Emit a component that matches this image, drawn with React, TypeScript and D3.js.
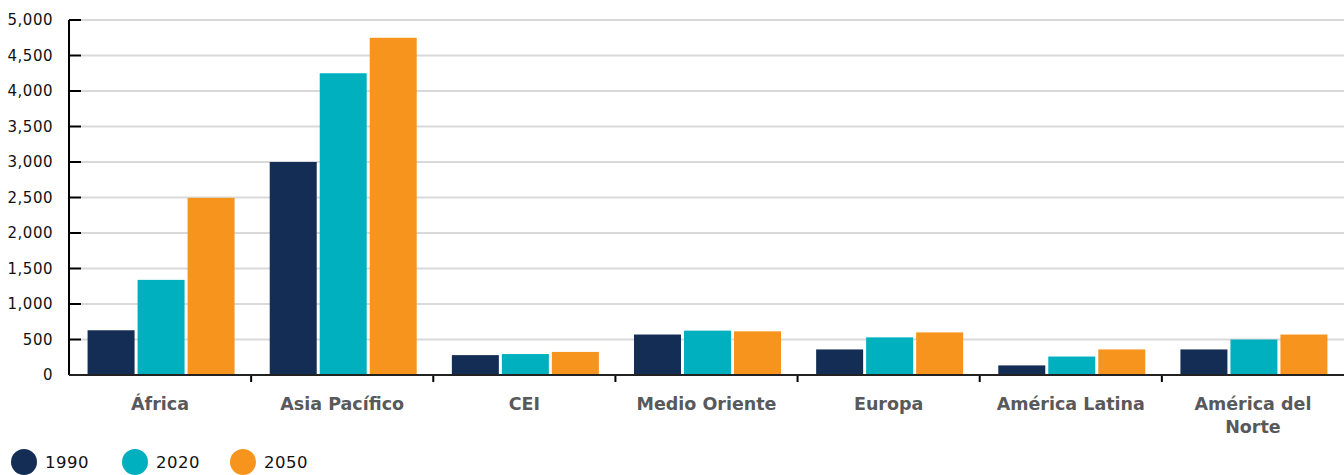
import React from "react";
import * as d3 from "d3";

const categories = ["África", "Asia Pacífico", "CEI", "Medio Oriente", "Europa", "América Latina", "América del Norte"];
const seriesNames = ["1990", "2020", "2050"];
const values1990 = [630, 3000, 280, 570, 360, 135, 360];
const values2020 = [1340, 4250, 295, 625, 530, 260, 500];
const values2050 = [2495, 4750, 325, 615, 600, 360, 570];
const yTicks = [0, 500, 1000, 1500, 2000, 2500, 3000, 3500, 4000, 4500, 5000];
const colors = ["#132D54", "#00B0BE", "#F7941D"];

const W = 1344;
const H = 475;
const left = 69;
const right = 1344;
const top = 20;
const bottom = 375;

export default function App() {
  const series = [values1990, values2020, values2050];
  const x = d3.scaleBand<string>().domain(categories).range([left, right]).paddingInner(0).paddingOuter(0);
  const y = d3.scaleLinear().domain([0, 5000]).range([bottom, top]);
  const barW = 47;
  const gap = 3;
  const groupW = barW * 3 + gap * 2;
  const fmt = d3.format(",");

  const wrap = (s: string) => (s === "América del Norte" ? ["América del", "Norte"] : [s]);

  return (
    <svg width={W} height={H} style={{ position: "absolute", left: 0, top: 0, display: "block" }}>
      {yTicks.map((t) => (
        <g key={t}>
          {t > 0 && <line x1={left + 12} x2={right} y1={y(t)} y2={y(t)} stroke="#d9d9d9" strokeWidth={2} />}
          <line x1={left} x2={left + 12} y1={y(t)} y2={y(t)} stroke="#000" strokeWidth={2} />
          <text x={53} y={y(t)} dy="0.35em" textAnchor="end" fontFamily="DejaVu Sans" fontSize={15} letterSpacing={0.5} fill="#111">
            {fmt(t)}
          </text>
        </g>
      ))}
      {categories.map((c, i) => {
        const x0 = (x(c) as number) + (x.bandwidth() - groupW) / 2 + 1;
        return (
          <g key={c}>
            {series.map((s, j) => (
              <rect
                key={j}
                x={x0 + j * (barW + gap)}
                y={y(s[i])}
                width={barW}
                height={y(0) - y(s[i])}
                fill={colors[j]}
              />
            ))}
            {wrap(c).map((line, k) => (
              <text
                key={k}
                x={(x(c) as number) + x.bandwidth() / 2}
                y={410 + k * 23}
                textAnchor="middle"
                fontFamily="DejaVu Sans"
                fontWeight="bold"
                fontSize={17.5}
                fill="#58595B"
              >
                {line}
              </text>
            ))}
          </g>
        );
      })}
      {categories.slice(1).map((c) => (
        <line key={c} x1={x(c) as number} x2={x(c) as number} y1={bottom} y2={bottom + 7} stroke="#000" strokeWidth={2} />
      ))}
      <line x1={left} x2={left} y1={top} y2={bottom} stroke="#000" strokeWidth={2} />
      <line x1={left} x2={right} y1={bottom} y2={bottom} stroke="#222" strokeWidth={2} />
      {seriesNames.map((n, i) => {
        const cx = [24, 135, 243][i];
        return (
          <g key={n}>
            <circle cx={cx} cy={462} r={13} fill={colors[i]} />
            <text x={cx + 21} y={462} dy="0.35em" fontFamily="DejaVu Sans" fontSize={16.5} letterSpacing={0.5} fill="#111">
              {n}
            </text>
          </g>
        );
      })}
    </svg>
  );
}
